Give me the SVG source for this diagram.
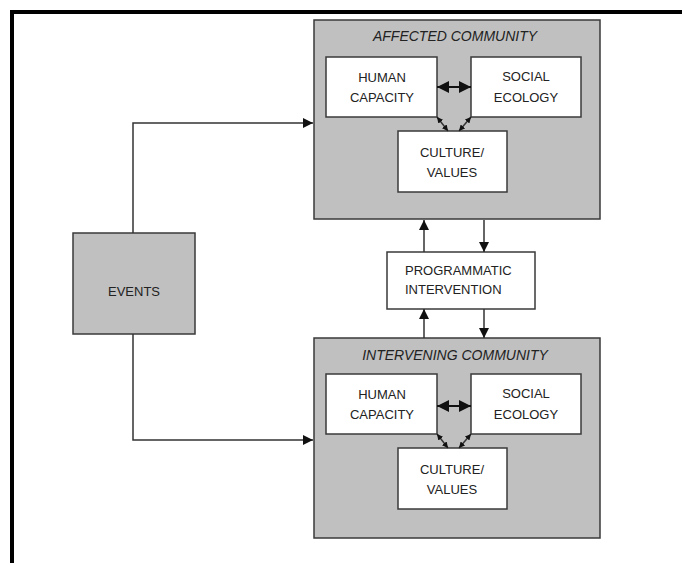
<svg xmlns="http://www.w3.org/2000/svg" width="682" height="563" viewBox="0 0 682 563">
  <style>
    .frame { fill: none; stroke: #000; stroke-width: 4; }
    .community { fill: #c0c0c0; stroke: #3a3a3a; stroke-width: 1.5; }
    .box { fill: #fff; stroke: #3a3a3a; stroke-width: 1.5; }
    .events { fill: #c0c0c0; stroke: #3a3a3a; stroke-width: 1.5; }
    .label { font-family: "Liberation Sans", Arial, sans-serif; font-size: 13px; fill: #222; text-anchor: middle; }
    .left { text-anchor: start; }
    .title { font-family: "Liberation Sans", Arial, sans-serif; font-size: 14px; font-style: italic; fill: #222; text-anchor: middle; }
    .link { fill: none; stroke: #333; stroke-width: 1.5; }
    .thick { fill: none; stroke: #111; stroke-width: 2; }
  </style>
  <defs>
    <marker id="arrow" viewBox="0 0 10 10" refX="10" refY="5" markerUnits="userSpaceOnUse" markerWidth="11" markerHeight="10" orient="auto-start-reverse">
      <path d="M0,0 L10,5 L0,10 z" fill="#111"/>
    </marker>
    <marker id="arrowBig" viewBox="0 0 10 10" refX="10" refY="5" markerUnits="userSpaceOnUse" markerWidth="13" markerHeight="12" orient="auto-start-reverse">
      <path d="M0,0 L10,5 L0,10 z" fill="#111"/>
    </marker>
    <marker id="arrowSmall" viewBox="0 0 10 10" refX="10" refY="5" markerUnits="userSpaceOnUse" markerWidth="6" markerHeight="6" orient="auto-start-reverse">
      <path d="M0,0 L10,5 L0,10 z" fill="#111"/>
    </marker>
  </defs>

  <!-- page frame -->
  <path class="frame" d="M12,563 V12 H682"/>

  <!-- affected community -->
  <g id="affected-community">
    <rect class="community" x="314" y="20" width="286" height="199"/>
    <text class="title" x="455" y="41">AFFECTED COMMUNITY</text>
  </g>
  <g id="affected-human-capacity">
    <rect class="box" x="326" y="57" width="111" height="60"/>
    <text class="label" x="382" y="82">HUMAN</text>
    <text class="label" x="382" y="102">CAPACITY</text>
  </g>
  <g id="affected-social-ecology">
    <rect class="box" x="471" y="57" width="110" height="60"/>
    <text class="label" x="526" y="81">SOCIAL</text>
    <text class="label" x="526" y="102">ECOLOGY</text>
  </g>
  <g id="affected-culture-values">
    <rect class="box" x="398" y="131" width="109" height="61"/>
    <text class="label" x="452" y="157">CULTURE/</text>
    <text class="label" x="452" y="177">VALUES</text>
  </g>

  <!-- intervening community -->
  <g id="intervening-community">
    <rect class="community" x="314" y="338" width="286" height="200"/>
    <text class="title" x="455" y="360">INTERVENING COMMUNITY</text>
  </g>
  <g id="intervening-human-capacity">
    <rect class="box" x="326" y="374" width="111" height="60"/>
    <text class="label" x="382" y="399">HUMAN</text>
    <text class="label" x="382" y="419">CAPACITY</text>
  </g>
  <g id="intervening-social-ecology">
    <rect class="box" x="471" y="374" width="110" height="60"/>
    <text class="label" x="526" y="398">SOCIAL</text>
    <text class="label" x="526" y="419">ECOLOGY</text>
  </g>
  <g id="intervening-culture-values">
    <rect class="box" x="398" y="448" width="109" height="61"/>
    <text class="label" x="452" y="474">CULTURE/</text>
    <text class="label" x="452" y="494">VALUES</text>
  </g>

  <!-- programmatic intervention -->
  <g id="programmatic-intervention">
    <rect class="box" x="387" y="252" width="148" height="57"/>
    <text class="label left" x="405" y="275">PROGRAMMATIC</text>
    <text class="label left" x="405" y="294">INTERVENTION</text>
  </g>

  <!-- events -->
  <g id="events">
    <rect class="events" x="73" y="233" width="122" height="101"/>
    <text class="label" x="134" y="296">EVENTS</text>
  </g>

  <!-- connectors -->
  <g id="connectors">
    <!-- events to both communities -->
    <path class="link" d="M133,233 V123 H313" marker-end="url(#arrow)"/>
    <path class="link" d="M133,334 V440 H313" marker-end="url(#arrow)"/>

    <!-- intervention links -->
    <path class="link" d="M424,252 V220" marker-end="url(#arrow)"/>
    <path class="link" d="M484,220 V252" marker-end="url(#arrow)"/>
    <path class="link" d="M424,338 V309" marker-end="url(#arrow)"/>
    <path class="link" d="M484,309 V338" marker-end="url(#arrow)"/>

    <!-- affected community internal links -->
    <path class="thick" d="M437,87 H471" marker-start="url(#arrowBig)" marker-end="url(#arrowBig)"/>
    <path class="link" d="M437,117 L448,131" marker-start="url(#arrowSmall)" marker-end="url(#arrowSmall)"/>
    <path class="link" d="M471,117 L459,131" marker-start="url(#arrowSmall)" marker-end="url(#arrowSmall)"/>

    <!-- intervening community internal links -->
    <path class="thick" d="M437,406 H471" marker-start="url(#arrowBig)" marker-end="url(#arrowBig)"/>
    <path class="link" d="M437,434 L448,448" marker-start="url(#arrowSmall)" marker-end="url(#arrowSmall)"/>
    <path class="link" d="M471,434 L459,448" marker-start="url(#arrowSmall)" marker-end="url(#arrowSmall)"/>
  </g>
</svg>
